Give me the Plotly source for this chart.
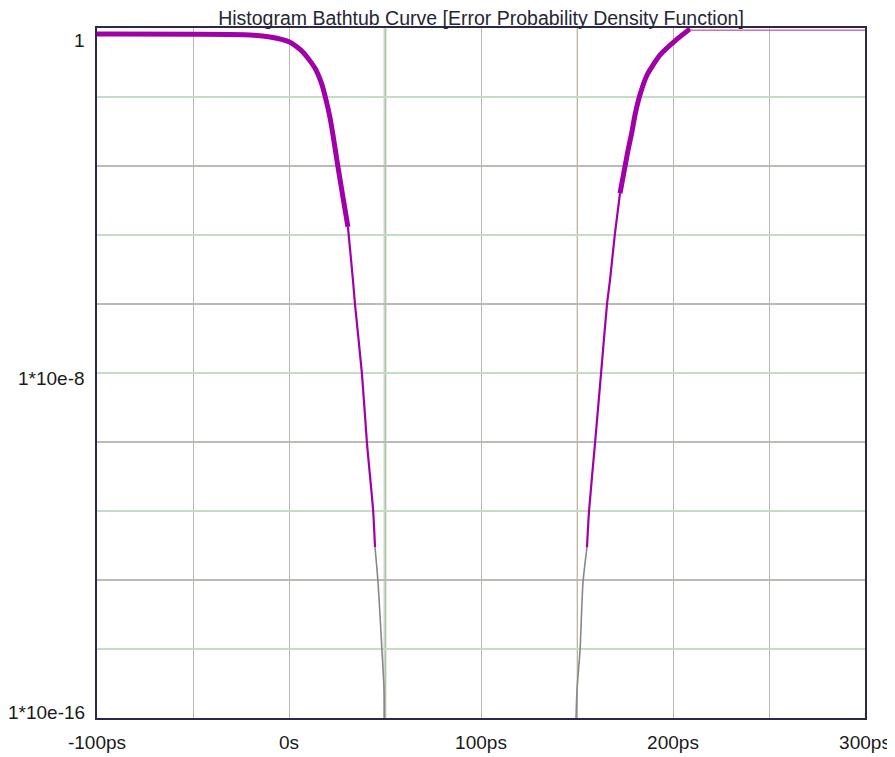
import plotly.graph_objects as go

# ---- data (time in ps, log10 of error probability) ----
left_thick_ps = [-100, -20.3, -9.9, 0.5, 7.3, 13.5, 17.2, 19.3, 21.4, 22.9, 25.5, 28.1, 30.7]
left_thick_exp = [-0.14, -0.16, -0.21, -0.33, -0.56, -0.93, -1.32, -1.67, -2.09, -2.48, -3.22, -3.92, -4.61]

left_thin_ps = [30.7, 33.3, 34.4, 38.0, 40.6, 43.8, 44.8]
left_thin_exp = [-4.61, -5.84, -6.42, -8.02, -9.62, -11.18, -12.04]

left_tail_ps = [44.8, 46.4, 48.4, 49.5, 49.5]
left_tail_exp = [-12.04, -12.87, -14.42, -15.35, -17.0]

right_tail_ps = [148.9, 150.0, 151.6, 153.1, 155.2]
right_tail_exp = [-17.0, -15.35, -14.42, -12.87, -12.04]

right_thin_ps = [155.2, 156.3, 159.4, 162.5, 165.6, 167.2, 169.8, 172.4]
right_thin_exp = [-12.04, -11.18, -9.62, -8.02, -6.42, -5.84, -4.75, -3.83]

right_thick_ps = [172.4, 176.6, 178.6, 180.2, 182.8, 186.5, 193.2, 202.1, 208.9]
right_thick_exp = [-3.83, -2.83, -2.41, -2.02, -1.55, -1.09, -0.63, -0.26, -0.02]

right_flat_ps = [208.9, 300]
right_flat_exp = [-0.05, -0.05]

x_grid_ps = [-100, -50, 0, 50, 100, 150, 200, 250, 300]
x_tick_text = ["-100ps", "", "0s", "", "100ps", "", "200ps", "", "300ps"]
marker_ps = [50, 150]
marker_colors = ["#bfe0bf", "#e6dcc6"]
y_grid_green_exp = [-1.6, -4.8, -8.0, -11.2, -14.4]
y_grid_gray_exp = [-3.2, -6.4, -9.6, -12.8]
y_label_exp = [-0.3, -8.12, -15.88]
y_label_text = ["1", "1*10e-8", "1*10e-16"]

title = "Histogram Bathtub Curve [Error Probability Density Function]"


def vals(exps):
    return [10 ** e for e in exps]


fig = go.Figure()
MAG = "#a000a8"
segments = [
    (left_thick_ps, left_thick_exp, MAG, 5),
    (left_thin_ps, left_thin_exp, MAG, 2.2),
    (left_tail_ps, left_tail_exp, "#888888", 1.6),
    (right_tail_ps, right_tail_exp, "#888888", 1.6),
    (right_thin_ps, right_thin_exp, MAG, 2.2),
    (right_thick_ps, right_thick_exp, MAG, 5),
    (right_flat_ps, right_flat_exp, "#d070b0", 1.5),
]
for xs, es, col, w in segments:
    fig.add_trace(go.Scatter(x=xs, y=vals(es), mode="lines",
                             line=dict(color=col, width=w, shape="spline", smoothing=0.6),
                             hoverinfo="skip", showlegend=False))

for xm, cm in zip(marker_ps, marker_colors):
    fig.add_shape(type="line", xref="x", yref="paper", x0=xm, x1=xm, y0=0, y1=1,
                  line=dict(color=cm, width=3 if xm == 50 else 1.5), layer="between")

font = "Arial, Liberation Sans, sans-serif"
FS = 19
for e, t in zip(y_label_exp, y_label_text):
    fig.add_annotation(x=0, xref="paper", y=e, yref="y", text=t, showarrow=False,
                       xanchor="right", yanchor="middle", xshift=-10,
                       font=dict(family=font, size=FS, color="#1a1a1a"))

fig.update_layout(
    width=895, height=757,
    margin=dict(l=89, r=38, t=20, b=47),
    paper_bgcolor="white", plot_bgcolor="white",
    title=dict(text=title, x=0.5285, xanchor="center", y=0.986, yanchor="middle",
               font=dict(family=font, size=19.5, color="#262636")),
    xaxis=dict(range=[-100, 300], tickmode="array", tickvals=x_grid_ps, ticktext=x_tick_text,
               showgrid=True, gridcolor="#bdb6ae", gridwidth=1, zeroline=False,
               showline=True, linecolor="#2a2a48", linewidth=2, mirror=True,
               ticks="", ticklabelstandoff=6,
               tickfont=dict(family=font, size=FS, color="#1a1a1a")),
    yaxis=dict(type="log", range=[-16, 0], tickmode="array", tickvals=vals(y_grid_green_exp),
               showticklabels=False, showgrid=True, gridcolor="#c4dcc4", gridwidth=1.5,
               zeroline=False, showline=True, linecolor="#2a2a48", linewidth=2, mirror=True,
               ticks="",
               minor=dict(tickmode="array", tickvals=vals(y_grid_gray_exp), showgrid=True,
                          gridcolor="#bdbab6", gridwidth=1.5, ticks="")),
)

fig.write_html("out.html")
